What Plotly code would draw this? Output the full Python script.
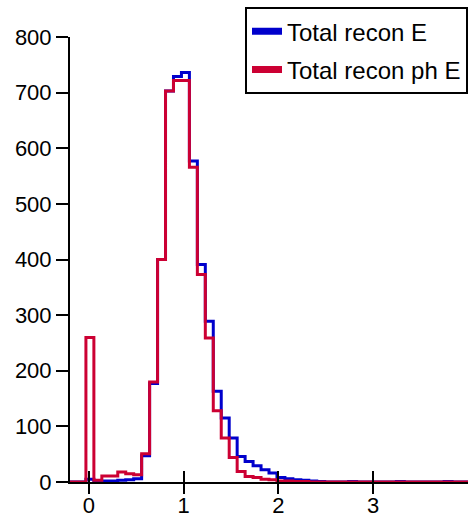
import plotly.graph_objects as go

# Histogram binning: 50 bins from -0.2 to 4.0
bin_start = -0.2
bin_width = 0.084
n_bins = 50

# Counts per bin
recon_e = [0, 0, 5, 2, 2, 2, 3, 4, 6, 47,
           177, 400, 703, 729, 736, 577, 391, 289, 163, 115,
           79, 46, 37, 29, 22, 16, 8, 6, 4, 3,
           2, 1, 0, 0, 0, 1, 0, 0, 0, 0,
           0, 1, 0, 0, 0, 0, 0, 1, 0, 0]
recon_ph_e = [0, 0, 260, 3, 11, 11, 18, 15, 13, 51,
              180, 400, 703, 722, 722, 566, 373, 259, 128, 79,
              44, 19, 10, 8, 5, 4, 2, 2, 1, 1,
              0, 0, 0, 0, 0, 0, 0, 0, 0, 0,
              0, 0, 0, 0, 0, 0, 0, 0, 0, 0]

series_names = ["Total recon E", "Total recon ph E"]
series_colors = ["#0000cc", "#cc0033"]
x_ticks = [0, 1, 2, 3]
y_ticks = [0, 100, 200, 300, 400, 500, 600, 700, 800]

edges = [bin_start + i * bin_width for i in range(n_bins + 1)]
FONT = "Liberation Sans, Arial, Helvetica, sans-serif"

fig = go.Figure()

# Step outlines of the two histograms
for name, counts, color in zip(series_names, [recon_e, recon_ph_e], series_colors):
    fig.add_trace(go.Scatter(
        x=edges, y=counts + [counts[-1]],
        mode="lines", line=dict(color=color, width=3, shape="hv"),
        name=name, showlegend=False, hoverinfo="skip",
    ))

# Legend entries with thick swatches
for i, (name, color) in enumerate(zip(series_names, series_colors)):
    fig.add_trace(go.Scatter(
        x=[None], y=[None], mode="lines",
        line=dict(color=color, width=7),
        name=name, legendgroup=f"g{i}", showlegend=True,
        xaxis="x2",
    ))

axis_common = dict(showgrid=False, zeroline=False, color="black",
                   tickfont=dict(family=FONT, size=22, color="black"))

x_range = [bin_start, bin_start + n_bins * bin_width]

fig.update_layout(
    width=472, height=527,
    margin=dict(l=70, r=4, t=37, b=45),
    paper_bgcolor="white", plot_bgcolor="white",
    font=dict(family=FONT, color="black"),
    # labelled axis carries the upper half of each crossing tick
    xaxis=dict(range=x_range, tickvals=x_ticks, ticks="inside",
               ticklen=11, tickwidth=2, ticklabelstandoff=3,
               showline=True, linewidth=2, linecolor="black",
               **axis_common),
    # overlay axis carries the lower half
    xaxis2=dict(range=x_range, overlaying="x", anchor="y", side="bottom",
                tickvals=x_ticks, ticks="outside", ticklen=11, tickwidth=2,
                tickcolor="black", showticklabels=False, showline=False,
                showgrid=False, zeroline=False),
    yaxis=dict(range=[0, 800], tickvals=y_ticks, ticks="outside",
               ticklen=12, tickwidth=2, showline=True, linewidth=2,
               linecolor="black", **axis_common),
    legend=dict(x=1, xanchor="right", y=1.067, yanchor="top",
                bgcolor="white", bordercolor="black", borderwidth=2,
                font=dict(family=FONT, size=24, color="black"),
                itemwidth=30, traceorder="grouped", tracegroupgap=4),
    showlegend=True,
)

fig.write_html("out.html")
